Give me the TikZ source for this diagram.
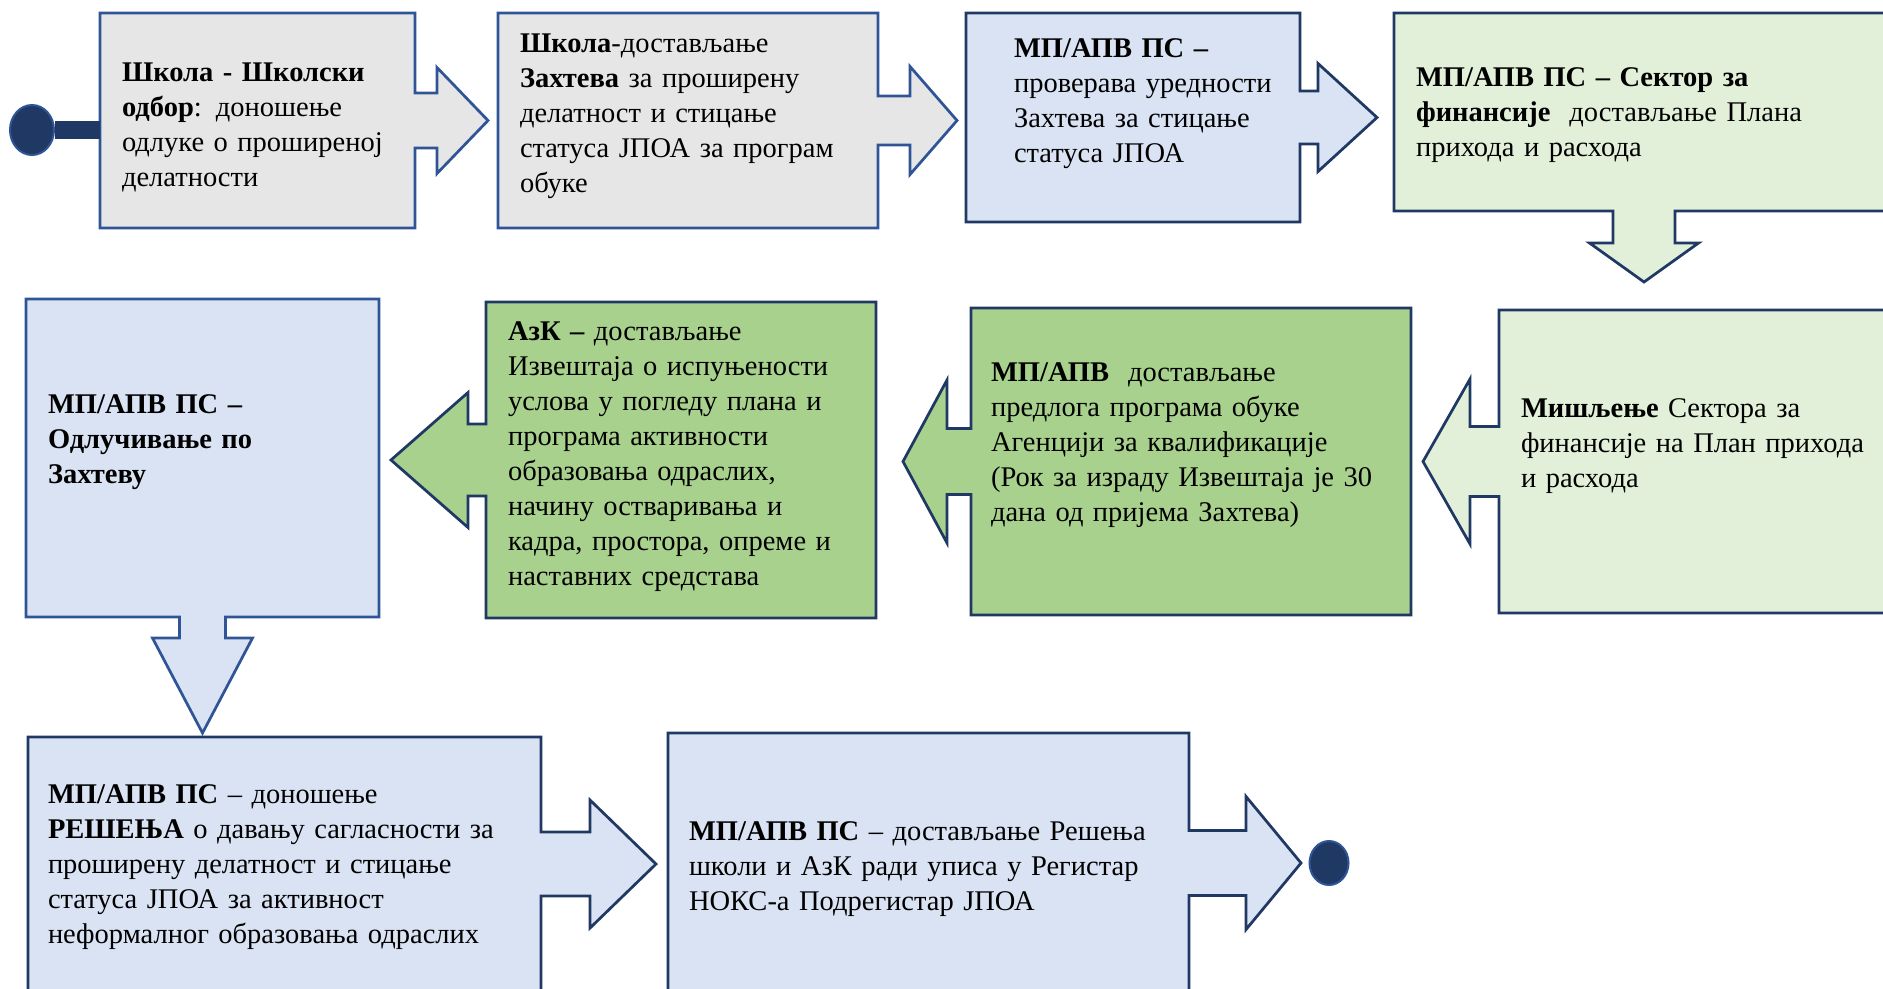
\documentclass[tikz,border=0pt]{standalone}
\usepackage{fontspec}
\setmainfont{Liberation Serif}
\usetikzlibrary{shapes.geometric,backgrounds}

\definecolor{greyfill}{HTML}{E7E6E6}
\definecolor{bluefill}{HTML}{DAE3F3}
\definecolor{paletint}{HTML}{E2F0D9}
\definecolor{greenfill}{HTML}{A9D18E}
\definecolor{midblue}{HTML}{2F5597}
\definecolor{navy}{HTML}{203864}

\begin{document}
\begin{tikzpicture}
	[x=0.4pt,y=-0.4pt,font=\fontsize{11.4}{14}\selectfont,
		stepbox/.style={anchor=north west,align=left,inner ysep=0pt,outer sep=0pt},
		callout/.style={draw=navy,line width=1.1pt,line join=miter},
		dot/.style={ellipse,draw=midblue,fill=navy,line width=0.8pt,inner sep=0pt}]

	\path[use as bounding box,clip] (0,0) rectangle (1883,988);

	% first row
	\node[stepbox,inner xsep=8.8pt,text width=108.4pt,text height=27.2pt,text depth=58.8pt] (b1) at (100,13)
		{\textbf{Школа - Школски}\\\textbf{одбор}: доношење\\одлуке о проширеној\\делатности};
	\node[stepbox,inner xsep=8.8pt,text width=134.4pt,text height=15.6pt,text depth=70.4pt] (b2) at (498,13)
		{\textbf{Школа}-достављање\\\textbf{Захтева} за проширену\\делатност и стицање\\статуса ЈПОА за програм\\обуке};
	\node[stepbox,inner xsep=19.2pt,text width=95.2pt,text height=17.6pt,text depth=66pt] (b3) at (966,13)
		{\textbf{МП/АПВ~ПС~–}\\проверава~уредности\\Захтева~за~стицање\\статуса~ЈПОА};
	\node[stepbox,inner xsep=8.8pt,text width=188.8pt,text height=29.2pt,text depth=50pt] (b4) at (1394,13)
		{\textbf{МП/АПВ ПС – Сектор за}\\\textbf{финансије}\ \ достављање Плана\\прихода и расхода};

	% second row
	\node[stepbox,inner xsep=8.8pt,text width=123.6pt,text height=45.6pt,text depth=81.6pt] (b5) at (26,299)
		{\textbf{МП/АПВ ПС –}\\\textbf{Одлучивање по}\\\textbf{Захтеву}};
	\node[stepbox,inner xsep=8.8pt,text width=138.4pt,text height=15.2pt,text depth=111.2pt] (b6) at (486,302)
		{\textbf{АзК –} достављање\\Извештаја о испуњености\\услова у погледу плана и\\програма активности\\образовања одраслих,\\начину остваривања и\\кадра, простора, опреме и\\наставних средстава};
	\node[stepbox,inner xsep=8pt,text width=160pt,text height=29.2pt,text depth=93.6pt] (b7) at (971,308)
		{\textbf{МП/АПВ}\ \ достављање\\предлога програма обуке\\Агенцији за квалификације\\(Рок за израду Извештаја је~30\\дана од пријема Захтева)};
	\node[stepbox,inner xsep=8.8pt,text width=146.8pt,text height=42.8pt,text depth=78.4pt] (b8) at (1499,310)
		{\textbf{Мишљење} Сектора за\\финансије на План прихода\\и расхода};

	% third row
	\node[stepbox,inner xsep=8pt,text width=189.2pt,text height=26.4pt,text depth=75.2pt] (b9) at (28,737)
		{\textbf{МП/АПВ ПС} – доношење\\\textbf{РЕШЕЊА} о давању сагласности за\\проширену делатност и стицање\\статуса ЈПОА за активност\\неформалног образовања одраслих};
	\node[stepbox,inner xsep=8.4pt,text width=191.6pt,text height=42.8pt,text depth=61.2pt] (b10) at (668,733)
		{\textbf{МП/АПВ ПС} – достављање~Решења\\школи и АзК ради уписа у Регистар\\НОКС-а Подрегистар ЈПОА};

	\node[dot,minimum width=17.6pt,minimum height=20pt] (start) at (32,130) {};
	\node[dot,minimum width=15.6pt,minimum height=17.6pt] (stop) at (1329,863) {};
	\draw[navy,line width=7pt] (start) -- (start -| b1.west);

	\begin{pgfonlayer}{background}
		\path[callout,draw=midblue,fill=greyfill]
			(b1.north west) -- (b1.north east) -- ([shift={(0,-27.5)}]b1.east) -- ++(22,0) -- ++(0,-25.5)
			-- ++(51,53) -- ++(-51,53) -- ++(0,-25.5) -- ++(-22,0) -- (b1.south east) -- (b1.south west) -- cycle;
		\path[callout,draw=midblue,fill=greyfill]
			(b2.north west) -- (b2.north east) -- ([shift={(0,-24.5)}]b2.east) -- ++(32,0) -- ++(0,-29.5)
			-- ++(47,54) -- ++(-47,54) -- ++(0,-29.5) -- ++(-32,0) -- (b2.south east) -- (b2.south west) -- cycle;
		\path[callout,fill=bluefill]
			(b3.north west) -- (b3.north east) -- ([shift={(0,-26.5)}]b3.east) -- ++(18,0) -- ++(0,-27.5)
			-- ++(59,54) -- ++(-59,54) -- ++(0,-27.5) -- ++(-18,0) -- (b3.south east) -- (b3.south west) -- cycle;
		\path[callout,fill=paletint]
			(b4.north west) -- (b4.north east) -- (b4.south east) -- ([shift={(281,0)}]b4.south west) -- ++(0,32)
			-- ++(23.5,0) -- ++(-54.5,39) -- ++(-54.5,-39) -- ++(23.5,0) -- ++(0,-32) -- (b4.south west) -- cycle;

		\path[callout,draw=midblue,fill=bluefill]
			(b5.north west) -- (b5.north east) -- (b5.south east) -- ([shift={(23,0)}]b5.south) -- ++(0,21)
			-- ++(27,0) -- ++(-50,95) -- ++(-50,-95) -- ++(27,0) -- ++(0,-21) -- (b5.south west) -- cycle;
		\path[callout,fill=greenfill]
			(b6.north west) -- (b6.north east) -- (b6.south east) -- (b6.south west) -- ([shift={(0,36)}]b6.west)
			-- ++(-18,0) -- ++(0,31.5) -- ++(-77,-67.5) -- ++(77,-67.5) -- ++(0,31.5) -- ++(18,0) -- cycle;
		\path[callout,fill=greenfill]
			(b7.north west) -- (b7.north east) -- (b7.south east) -- (b7.south west) -- ([shift={(0,33)}]b7.west)
			-- ++(-24,0) -- ++(0,48.5) -- ++(-44,-81.5) -- ++(44,-81.5) -- ++(0,48.5) -- ++(24,0) -- cycle;
		\path[callout,fill=paletint]
			(b8.north west) -- (b8.north east) -- (b8.south east) -- (b8.south west) -- ([shift={(0,35)}]b8.west)
			-- ++(-29,0) -- ++(0,47.5) -- ++(-47,-82.5) -- ++(47,-82.5) -- ++(0,47.5) -- ++(29,0) -- cycle;

		\path[callout,fill=bluefill]
			(b9.north west) -- (b9.north east) -- ([shift={(0,-32)}]b9.east) -- ++(49,0) -- ++(0,-32)
			-- ++(66,64) -- ++(-66,64) -- ++(0,-32) -- ++(-49,0) -- (b9.south east) -- (b9.south west) -- cycle;
		\path[callout,fill=bluefill]
			(b10.north west) -- (b10.north east) -- ([shift={(0,-32.5)}]b10.east) -- ++(57,0) -- ++(0,-34)
			-- ++(55,66.5) -- ++(-55,66.5) -- ++(0,-34) -- ++(-57,0) -- (b10.south east) -- (b10.south west) -- cycle;
	\end{pgfonlayer}

\end{tikzpicture}
\end{document}
